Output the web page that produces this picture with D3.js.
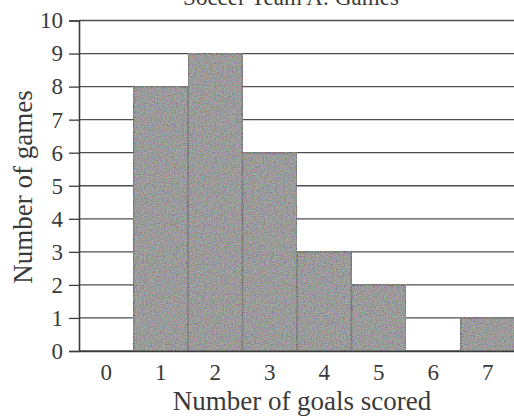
<!DOCTYPE html>
<html>
<head>
<meta charset="utf-8">
<script src="https://cdn.jsdelivr.net/npm/d3@7"></script>
<style>
  html, body { margin: 0; padding: 0; background: #fff; }
  svg { display: block; }
  text { font-family: "Liberation Serif", "DejaVu Serif", serif; fill: #3a3a3a; }
</style>
</head>
<body>
<svg id="chart" width="514" height="417"></svg>
<script>
const categories = ["0", "1", "2", "3", "4", "5", "6", "7"];
const games = [0, 8, 9, 6, 3, 2, 0, 1];
const yTicks = [0, 1, 2, 3, 4, 5, 6, 7, 8, 9, 10];
const titleText = "Soccer Team A: Games";
const xLabel = "Number of goals scored";
const yLabel = "Number of games";

const svg = d3.select("#chart");
const W = 514, H = 417;
const margin = { left: 79, right: -1, top: 20.5, bottom: 66 };

const x = d3.scaleBand().domain(categories).range([margin.left, W - margin.right]).padding(0);
const y = d3.scaleLinear().domain([0, 10]).range([H - margin.bottom, margin.top]);

const defs = svg.append("defs");
const f = defs.append("filter").attr("id", "grain").attr("x", 0).attr("y", 0).attr("width", 1).attr("height", 1);
f.append("feTurbulence").attr("type", "fractalNoise").attr("baseFrequency", 0.9).attr("numOctaves", 2).attr("seed", 3).attr("result", "noise");
f.append("feComponentTransfer").attr("in", "noise").attr("result", "speck")
  .call(g => {
    g.append("feFuncR").attr("type", "linear").attr("slope", 1.6).attr("intercept", -0.25);
    g.append("feFuncG").attr("type", "linear").attr("slope", 1.6).attr("intercept", -0.25);
    g.append("feFuncB").attr("type", "linear").attr("slope", 1.6).attr("intercept", -0.25);
    g.append("feFuncA").attr("type", "linear").attr("slope", 0).attr("intercept", 0.35);
  });
f.append("feComposite").attr("in", "speck").attr("in2", "SourceGraphic").attr("operator", "in").attr("result", "sp");
f.append("feMerge").call(m => {
  m.append("feMergeNode").attr("in", "SourceGraphic");
  m.append("feMergeNode").attr("in", "sp");
});

// title (cut off by the top edge, as in the source image)
svg.append("text")
  .attr("x", 291).attr("y", 5)
  .attr("text-anchor", "middle")
  .attr("font-size", 23)
  .text(titleText);

// gridlines
svg.append("g").selectAll("line").data(yTicks).join("line")
  .attr("x1", margin.left).attr("x2", W)
  .attr("y1", d => y(d)).attr("y2", d => y(d))
  .attr("stroke", "#4e4e4e").attr("stroke-width", 1.3);

// bars
svg.append("g").selectAll("rect").data(categories.map((c, i) => ({ c, v: games[i] })).filter(d => d.v > 0)).join("rect")
  .attr("x", d => x(d.c)).attr("width", x.bandwidth())
  .attr("y", d => y(d.v)).attr("height", d => y(0) - y(d.v))
  .attr("fill", "#808080")
  .attr("filter", "url(#grain)")
  .attr("stroke", "#3c3c3c").attr("stroke-width", 1.6);

// y axis
const yAxis = d3.axisLeft(y).tickValues(yTicks).tickSize(10).tickPadding(6).tickFormat(d3.format("d"));
const gy = svg.append("g").attr("transform", `translate(${margin.left},0)`).call(yAxis);
gy.select(".domain").attr("stroke", "#3c3c3c").attr("stroke-width", 1.6);
gy.selectAll(".tick line").attr("stroke", "#3c3c3c").attr("stroke-width", 1.3);
gy.selectAll(".tick text").attr("font-size", 23).attr("fill", "#3a3a3a")
  .attr("font-family", "Liberation Serif, DejaVu Serif, serif");

// x axis labels
const xAxis = d3.axisBottom(x).tickSize(0).tickPadding(13);
const gx = svg.append("g").attr("transform", `translate(0,${y(0)})`).call(xAxis);
gx.select(".domain").attr("stroke", "#3c3c3c").attr("stroke-width", 1.6);
gx.selectAll(".tick text").attr("font-size", 23).attr("fill", "#3a3a3a")
  .attr("font-family", "Liberation Serif, DejaVu Serif, serif");

// axis titles
svg.append("text")
  .attr("x", 302).attr("y", 410)
  .attr("text-anchor", "middle")
  .attr("font-size", 27)
  .text(xLabel);

svg.append("text")
  .attr("transform", `translate(32,187) rotate(-90)`)
  .attr("text-anchor", "middle")
  .attr("font-size", 27)
  .text(yLabel);
</script>
</body>
</html>
